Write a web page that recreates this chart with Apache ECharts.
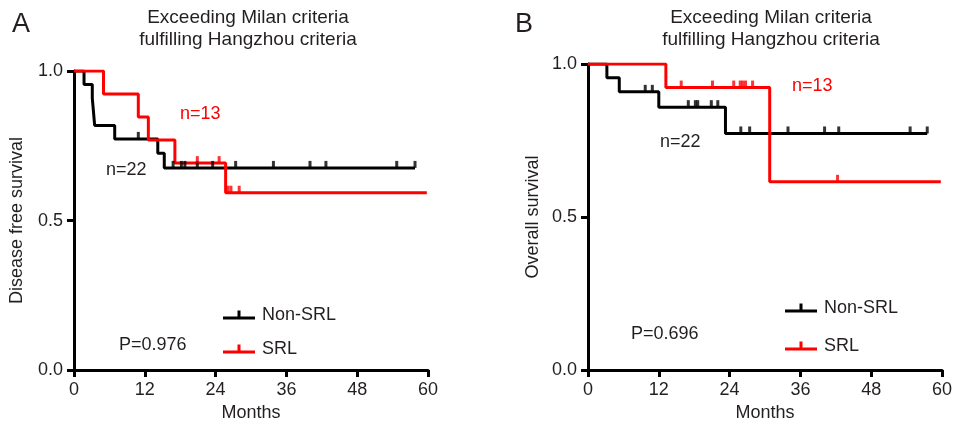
<!DOCTYPE html>
<html>
<head>
<meta charset="utf-8">
<script src="https://cdn.jsdelivr.net/npm/echarts@6/dist/echarts.min.js"></script>
<style>
  html, body { margin: 0; padding: 0; background: #fff; }
  #chart { width: 955px; height: 427px; }
</style>
</head>
<body>
<div id="chart"></div>
<script>
// Kaplan-Meier steps: [month, survival after the event]
const dfsNonSrlEvents = [[1.7, 0.955], [3.1, 0.909], [3.3, 0.864], [3.5, 0.818], [6.9, 0.773], [14.2, 0.725], [15.3, 0.676]];
const dfsNonSrlCensored = [10.9, 16.8, 18.2, 18.8, 20.9, 23.5, 27.4, 33.8, 40.0, 42.7, 54.7, 57.8];
const dfsNonSrlEnd = 57.8;

const dfsSrlEvents = [[5.0, 0.923], [10.9, 0.846], [12.6, 0.769], [17.1, 0.692], [25.7, 0.593]];
const dfsSrlCensored = [20.9, 24.6, 26.1, 26.6, 28.0];
const dfsSrlEnd = 59.8;

const osNonSrlEvents = [[3.2, 0.955], [5.3, 0.909], [12.0, 0.859], [23.3, 0.773]];
const osNonSrlCensored = [9.7, 10.9, 17.0, 18.2, 18.6, 20.9, 22.0, 25.9, 27.4, 33.9, 40.1, 42.5, 54.6, 57.5];
const osNonSrlEnd = 57.5;

const osSrlEvents = [[13.2, 0.923], [30.8, 0.615]];
const osSrlCensored = [15.8, 21.1, 24.7, 25.8, 26.2, 26.7, 27.9, 42.3];
const osSrlEnd = 59.8;

const panelTitle = 'Exceeding Milan criteria\nfulfilling Hangzhou criteria';
const yNames = ['Disease free survival', 'Overall survival'];
const pValues = ['P=0.976', 'P=0.696'];
const groupNames = ['Non-SRL', 'SRL'];
const groupSizes = ['n=22', 'n=13'];

const FONT = '"Liberation Sans", Arial, Helvetica, sans-serif';
const INK = '#231f20';
const BLACK = '#000000';
const RED = '#ff0000';

function stepLine(events, end) {
  const pts = [[0, 1]].concat(events);
  pts.push([end, pts[pts.length - 1][1]]);
  return pts;
}
function survivalAt(events, t) {
  let s = 1;
  for (const [m, v] of events) { if (m <= t) s = v; }
  return s;
}
function censorPoints(events, times) {
  return times.map(t => [t, survivalAt(events, t)]);
}

const grids = [
  { left: 74, top: 71, width: 354, height: 305 },
  { left: 588, top: 64, width: 355, height: 306 }
];

const axisLine = { lineStyle: { color: BLACK, width: 3 } };
const axisTick = { show: true, inside: false, length: 7, lineStyle: { color: BLACK, width: 3 } };
const axisLabel = { color: INK, fontSize: 18, fontFamily: FONT, margin: 11 };

const xAxes = [0, 1].map(i => ({
  type: 'value', gridIndex: i, min: 0, max: 60, interval: 12,
  name: 'Months', nameLocation: 'middle', nameGap: 31,
  nameTextStyle: { color: INK, fontSize: 18, fontFamily: FONT },
  axisLine, axisTick, axisLabel, splitLine: { show: false }
}));
const yAxes = [0, 1].map(i => ({
  type: 'value', gridIndex: i, min: 0, max: 1, interval: 0.5,
  name: yNames[i], nameLocation: 'middle', nameGap: i === 0 ? 48 : 46, nameRotate: 90,
  nameTextStyle: { color: INK, fontSize: 18, fontFamily: FONT },
  axisLine, axisTick,
  axisLabel: Object.assign({}, axisLabel, { formatter: v => v.toFixed(1) }),
  splitLine: { show: false }
}));

function kmLine(name, idx, events, end, color) {
  return {
    type: 'line', name, xAxisIndex: idx, yAxisIndex: idx,
    data: stepLine(events, end), step: 'end', showSymbol: false, symbol: 'none',
    color, itemStyle: { color },
    lineStyle: { color, width: 3 }, z: 3, silent: true
  };
}
function censorMarks(name, idx, events, times, color) {
  return {
    type: 'scatter', name, xAxisIndex: idx, yAxisIndex: idx,
    data: censorPoints(events, times),
    symbol: 'rect', symbolSize: [3, 7], symbolOffset: [0, -3.5],
    itemStyle: { color }, z: 4, silent: true
  };
}

const series = [
  kmLine('Non-SRL', 0, dfsNonSrlEvents, dfsNonSrlEnd, BLACK),
  kmLine('SRL', 0, dfsSrlEvents, dfsSrlEnd, RED),
  censorMarks('Non-SRL censored A', 0, dfsNonSrlEvents, dfsNonSrlCensored, BLACK),
  censorMarks('SRL censored A', 0, dfsSrlEvents, dfsSrlCensored, RED),
  kmLine('Non-SRL', 1, osNonSrlEvents, osNonSrlEnd, BLACK),
  kmLine('SRL', 1, osSrlEvents, osSrlEnd, RED),
  censorMarks('Non-SRL censored B', 1, osNonSrlEvents, osNonSrlCensored, BLACK),
  censorMarks('SRL censored B', 1, osSrlEvents, osSrlCensored, RED)
];

const legendIcon = 'path://M0,6 L32,6 L32,9 L0,9 Z M14.5,0 L17.5,0 L17.5,6 L14.5,6 Z';
function legendItem(name, left, top) {
  return {
    data: [name], left, top, orient: 'vertical', padding: 0,
    icon: legendIcon, itemWidth: 32, itemHeight: 9, selectedMode: false,
    textStyle: { color: INK, fontSize: 18, fontFamily: FONT, padding: [12, 0, 0, 2] }
  };
}
const legends = [
  legendItem(groupNames[0], 223, 306),
  legendItem(groupNames[1], 223, 340),
  legendItem(groupNames[0], 785, 299),
  legendItem(groupNames[1], 785, 337)
];

const titleStyle = { color: INK, fontSize: 19, fontWeight: 'normal', fontFamily: FONT, lineHeight: 22 };
const titles = [
  { text: panelTitle, left: 248, top: 7, textAlign: 'center', padding: 0, textStyle: titleStyle },
  { text: panelTitle, left: 771, top: 7, textAlign: 'center', padding: 0, textStyle: titleStyle }
];

function label(text, x, y, color, size) {
  return {
    type: 'text', x, y,
    style: { text, fill: color, font: (size || 18) + 'px ' + FONT, textAlign: 'left', textVerticalAlign: 'middle' }
  };
}
const graphics = [
  label('A', 12, 25, INK, 27),
  label('B', 515, 25, INK, 27),
  label(groupSizes[0], 106, 170, INK),
  label(groupSizes[1], 180, 114, RED),
  label(groupSizes[0], 660, 142, INK),
  label(groupSizes[1], 792, 86, RED),
  label(pValues[0], 119, 345, INK),
  label(pValues[1], 631, 334, INK)
];

const chart = echarts.init(document.getElementById('chart'), null, { renderer: 'canvas' });
chart.setOption({
  animation: false,
  backgroundColor: '#ffffff',
  title: titles,
  grid: grids,
  xAxis: xAxes,
  yAxis: yAxes,
  legend: legends,
  series,
  graphic: graphics
});
</script>
</body>
</html>
